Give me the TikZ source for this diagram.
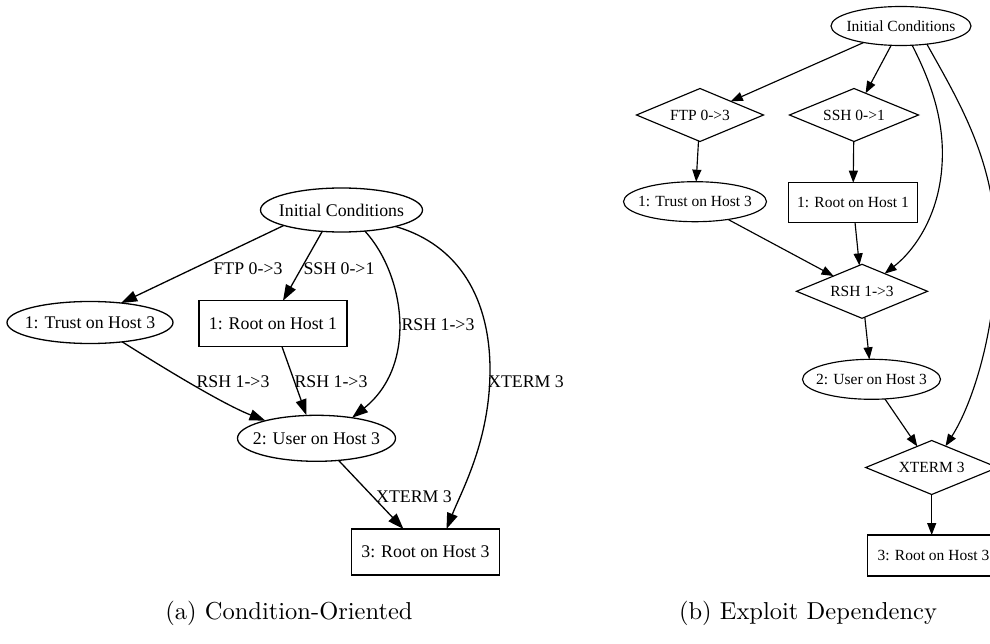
\documentclass[tikz,border=0pt]{standalone}
\usepackage{fontspec}
\usepackage{graphicx}
\newfontfamily\graphfont{Liberation Serif}
\newcommand\leftgraphfont{\graphfont\fontsize{17.8}{20}\selectfont}
\newcommand\rightgraphfont{\graphfont\fontsize{15.5}{18}\selectfont}
\usetikzlibrary{shapes.geometric,arrows.meta}
\begin{document}
\begin{tikzpicture}[x=1pt,y=-1pt,
  every node/.style={inner sep=0pt, outer sep=0pt},
  % zero-width text so that the outline keeps its given size
  slim/.style={execute at begin node={\hbox to 0pt\bgroup\hss},
               execute at end node={\hss\egroup}},
  condL/.style={draw, ellipse, slim, line width=1.3pt, font=\leftgraphfont},
  boxL/.style={draw, rectangle, line width=1.3pt, font=\leftgraphfont},
  lblL/.style={font=\leftgraphfont},
  edgeL/.style={line width=1.3pt, -{Triangle[length=16pt,width=11pt]}},
  condR/.style={draw, ellipse, slim, line width=1.15pt, font=\rightgraphfont},
  boxR/.style={draw, rectangle, line width=1.15pt, font=\rightgraphfont},
  exR/.style={draw, diamond, slim, line width=1.15pt, font=\rightgraphfont},
  edgeR/.style={line width=1.15pt, -{Triangle[length=12pt,width=9pt]}},
  capstyle/.style={font=\rmfamily}]
\useasboundingbox (0,0) rectangle (990,644);
\clip (0,0) rectangle (990,644);

% ---------- (a) condition-oriented graph ----------
\node[condL, minimum width=162pt, minimum height=44pt] (ic) at (341.5,210) {Initial Conditions};
\node[condL, minimum width=166pt, minimum height=42pt] (tr) at (90,322.5) {1: Trust on Host 3};
\node[boxL, minimum width=148pt, minimum height=46pt] (r1) at (273,323.7) {1: Root on Host 1};
\node[condL, minimum width=158pt, minimum height=46pt] (us) at (316.5,438.3) {2: User on Host 3};
\node[boxL, minimum width=148pt, minimum height=46pt] (r3) at (425.5,552) {3: Root on Host 3};

\draw[edgeL] (ic.195) -- (tr.32);
\draw[edgeL] (ic.228) -- ([xshift=10pt]r1.north);
\draw[edgeL] (ic.318) .. controls (405,275) and (418,365) .. (us.30);
\draw[edgeL] (ic.343) .. controls (460,245) and (490,300) .. (490,370)
                      .. controls (490,440) and (462,490) .. ([xshift=21pt]r3.north);
\draw[edgeL] (tr.329) .. controls (170,372) and (225,405) .. (us.161);
\draw[edgeL] ([xshift=9pt]r1.south) -- ([xshift=-10pt]us.north);
\draw[edgeL] (us.315) -- ([xshift=-22pt]r3.north);

\node[lblL] (lftp) at (248,269) {FTP 0->3};
\node[lblL] (lssh) at (339,269) {SSH 0->1};
\node[lblL] (lrsha) at (438,325) {RSH 1->3};
\node[lblL] (lxta) at (526,382) {XTERM 3};
\node[lblL] (lrshb) at (233,382) {RSH 1->3};
\node[lblL] (lrshc) at (331,382) {RSH 1->3};
\node[lblL] (lxtb) at (414,497) {XTERM 3};

% ---------- (b) exploit dependency graph ----------
\node[condR, minimum width=140pt, minimum height=39pt] (ic2) at (901,26) {Initial Conditions};
\node[exR, minimum width=127pt, minimum height=53pt] (ftp) at (700,115) {FTP 0->3};
\node[exR, minimum width=129pt, minimum height=53pt] (ssh) at (854,115) {SSH 0->1};
\node[condR, minimum width=143pt, minimum height=40pt] (tr2) at (695,201.7) {1: Trust on Host 3};
\node[boxR, minimum width=129pt, minimum height=40pt] (r1b) at (853,202.7) {1: Root on Host 1};
\node[exR, minimum width=131pt, minimum height=54pt] (rsh) at (862,291.3) {RSH 1->3};
\node[condR, minimum width=138pt, minimum height=40pt] (us2) at (871.5,379.3) {2: User on Host 3};
\node[exR, minimum width=132pt, minimum height=54pt] (xt) at (931.7,467.5) {XTERM 3};
\node[boxR, minimum width=136pt, minimum height=41pt] (r3b) at (935.3,555.5) {\hspace*{-3.6pt}3: Root on Host 3};

\draw[edgeR] (ic2) -- (ftp);
\draw[edgeR] (ic2.243) -- (ssh);
\draw[edgeR] (ic2.300) .. controls (930,80) and (945,120) .. (942,165)
                       .. controls (939,215) and (915,250) .. (rsh);
\draw[edgeR] (ic2.325) .. controls (958,100) and (995,160) .. (996,245)
                       .. controls (997,330) and (972,405) .. (xt);
\draw[edgeR] (ftp) -- (tr2);
\draw[edgeR] (ssh) -- (r1b);
\draw[edgeR] (tr2) -- (rsh);
\draw[edgeR] (r1b) -- (rsh);
\draw[edgeR] (rsh) -- (us2);
\draw[edgeR] (us2) -- (xt);
\draw[edgeR] (xt) -- (xt |- r3b.north);

% ---------- captions ----------
\node[capstyle] (capa) at (289,613) {\scalebox{2.45}{(a) Condition-Oriented}};
\node[capstyle] (capb) at (808,613) {\scalebox{2.45}{(b) Exploit Dependency}};
\end{tikzpicture}
\end{document}
